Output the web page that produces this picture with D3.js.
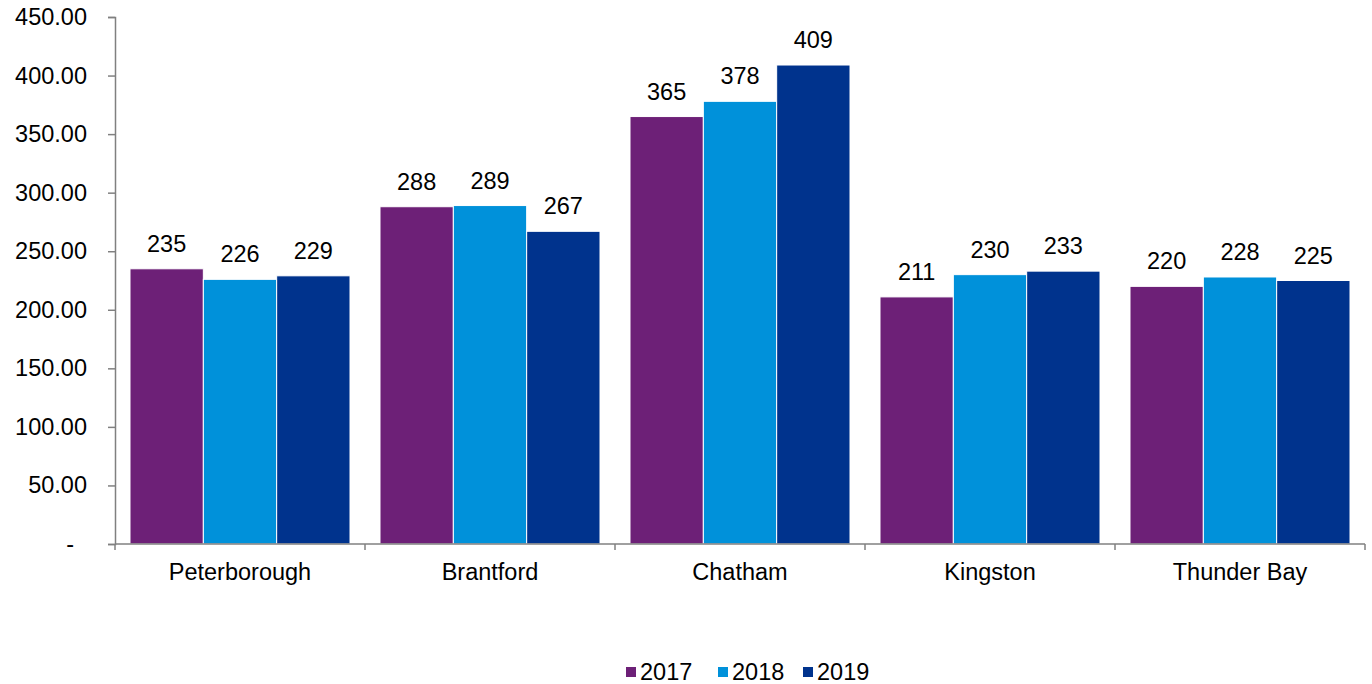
<!DOCTYPE html>
<html>
<head>
<meta charset="utf-8">
<script src="https://cdn.jsdelivr.net/npm/d3@7"></script>
<style>
  body { margin: 0; background: #fff; }
  text { font-family: "Liberation Sans", Arial, sans-serif; fill: #000; }
</style>
</head>
<body>
<svg width="1372" height="684"></svg>
<script>
// chart data
var cities = ['Peterborough', 'Brantford', 'Chatham', 'Kingston', 'Thunder Bay'];
var years = ['2017', '2018', '2019'];
var values2017 = [235, 288, 365, 211, 220];
var values2018 = [226, 289, 378, 230, 228];
var values2019 = [229, 267, 409, 233, 225];
var yTicks = [0, 50, 100, 150, 200, 250, 300, 350, 400, 450];
var colors = ['#6D2077', '#0091DA', '#00338D'];

var seriesValues = [values2017, values2018, values2019];
var fontSize = '23.5px';

var svg = d3.select('svg');
var padding = {t: 17, r: 7, b: 140, l: 115};
var chartWidth = 1372 - padding.l - padding.r;
var chartHeight = 684 - padding.t - padding.b;

var chartG = svg.append('g')
    .attr('transform', 'translate(' + [padding.l, padding.t] + ')');

var xScale = d3.scaleBand()
    .domain(cities)
    .range([0, chartWidth])
    .paddingInner(0.12)
    .paddingOuter(0.06);

var xSub = d3.scaleBand()
    .domain(years)
    .range([0, xScale.bandwidth()]);

var yScale = d3.scaleLinear()
    .domain([0, 450])
    .range([chartHeight, 0]);

// y axis
var yAxis = d3.axisLeft(yScale)
    .tickValues(yTicks)
    .tickSize(7)
    .tickPadding(21)
    .tickFormat(function(d) { return d === 0 ? '-' : d.toFixed(2); });

var yG = chartG.append('g').call(yAxis);
yG.select('.domain').attr('stroke', '#808080').attr('stroke-width', 1.5);
yG.selectAll('.tick line').attr('stroke', '#808080').attr('stroke-width', 1.5);
yG.selectAll('.tick text')
    .style('font-size', fontSize)
    .style('font-family', '"Liberation Sans", Arial, sans-serif')
    .attr('fill', '#000');
// the zero label sits left of the others
yG.selectAll('.tick text').filter(function(d) { return d === 0; })
    .attr('x', -41);

// bars
var groups = chartG.selectAll('.city')
    .data(cities)
    .enter()
    .append('g')
    .attr('class', 'city')
    .attr('transform', function(d) { return 'translate(' + [xScale(d), 0] + ')'; });

groups.each(function(city, ci) {
    var g = d3.select(this);
    var rows = years.map(function(y, yi) {
        return {year: y, value: seriesValues[yi][ci], color: colors[yi]};
    });

    g.selectAll('rect')
        .data(rows)
        .enter()
        .append('rect')
        .attr('x', function(d) { return xSub(d.year); })
        .attr('y', function(d) { return yScale(d.value); })
        .attr('width', xSub.bandwidth())
        .attr('height', function(d) { return chartHeight - yScale(d.value); })
        .attr('fill', function(d) { return d.color; })
        .attr('stroke', '#fff')
        .attr('stroke-width', 1);

    g.selectAll('.val')
        .data(rows)
        .enter()
        .append('text')
        .attr('class', 'val')
        .attr('x', function(d) { return xSub(d.year) + xSub.bandwidth() / 2; })
        .attr('y', function(d) { return yScale(d.value) - 17; })
        .attr('text-anchor', 'middle')
        .style('font-size', fontSize)
        .text(function(d) { return d.value; });
});

// x axis with ticks between categories
var xAxisG = chartG.append('g')
    .attr('transform', 'translate(0,' + chartHeight + ')');

xAxisG.append('line')
    .attr('x1', 0)
    .attr('x2', chartWidth)
    .attr('stroke', '#808080')
    .attr('stroke-width', 1.5);

var boundaries = d3.range(cities.length + 1).map(function(i) {
    return i === cities.length ? chartWidth : xScale(cities[i]) - xScale.step() * xScale.paddingInner() / 2;
});
xAxisG.selectAll('.btick')
    .data(boundaries)
    .enter()
    .append('line')
    .attr('class', 'btick')
    .attr('x1', function(d) { return d; })
    .attr('x2', function(d) { return d; })
    .attr('y1', 0)
    .attr('y2', 6)
    .attr('stroke', '#808080')
    .attr('stroke-width', 1.5);

xAxisG.selectAll('.cat')
    .data(cities)
    .enter()
    .append('text')
    .attr('class', 'cat')
    .attr('x', function(d) { return xScale(d) + xScale.bandwidth() / 2; })
    .attr('y', 36)
    .attr('text-anchor', 'middle')
    .style('font-size', fontSize)
    .text(function(d) { return d; });

// legend
var legendX = [626, 718, 803];
var legend = svg.append('g');
years.forEach(function(y, i) {
    legend.append('rect')
        .attr('x', legendX[i])
        .attr('y', 667)
        .attr('width', 10)
        .attr('height', 10)
        .attr('fill', colors[i]);
    legend.append('text')
        .attr('x', legendX[i] + 14)
        .attr('y', 680)
        .style('font-size', fontSize)
        .text(y);
});
</script>
</body>
</html>
